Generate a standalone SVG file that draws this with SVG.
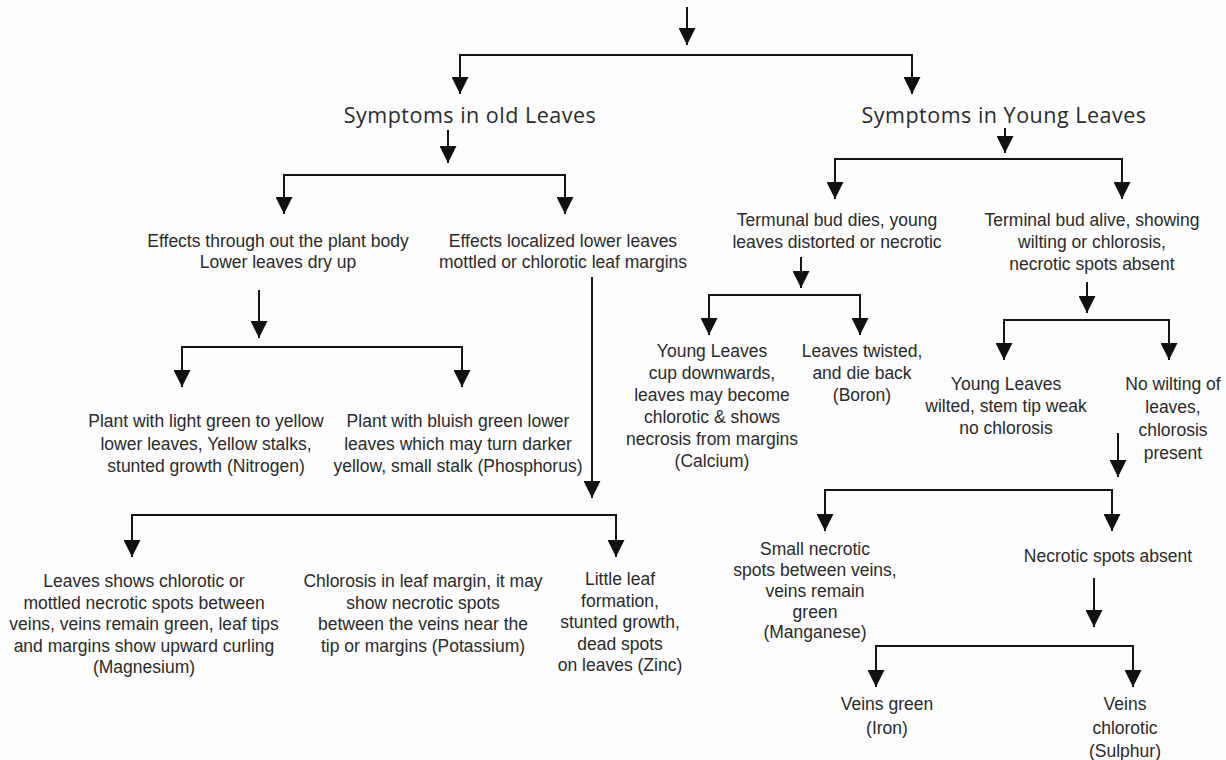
<svg xmlns="http://www.w3.org/2000/svg" width="1226" height="760" viewBox="0 0 1226 760">
<style>
.bg{fill:#fdfdfd}
.ln{fill:none;stroke:#151515;stroke-width:2}
.a{marker-end:url(#ah)}
.b{marker-start:url(#ahs);marker-end:url(#ah)}
.h{font-family:"Open Sans","Liberation Sans",sans-serif;font-size:21.5px;letter-spacing:0.5px;fill:#2a2a2a;text-anchor:middle}
.t{font-family:"Liberation Sans",Arial,sans-serif;font-size:17.5px;fill:#2a2a2a;text-anchor:middle}
</style>
<defs>
<marker id="ah" markerUnits="userSpaceOnUse" markerWidth="17" markerHeight="17" viewBox="0 0 17 17" refX="17" refY="8.5" orient="auto">
<path d="M0,0 L17,8.5 L0,17 Z" fill="#111"/>
</marker>
<marker id="ahs" markerUnits="userSpaceOnUse" markerWidth="17" markerHeight="17" viewBox="0 0 17 17" refX="17" refY="8.5" orient="auto-start-reverse">
<path d="M0,0 L17,8.5 L0,17 Z" fill="#111"/>
</marker>
</defs>
<rect class="bg" x="0" y="0" width="1226" height="760"/>
<g id="connectors">
<path class="ln a" d="M687,7 V45"/>
<path class="ln b" d="M460,94 V55 H912 V94"/>
<path class="ln a" d="M448,130 V163"/>
<path class="ln b" d="M284,214 V175 H565 V214"/>
<path class="ln a" d="M1005,128 V153"/>
<path class="ln b" d="M835,199 V159 H1122 V199"/>
<path class="ln a" d="M259,290 V338"/>
<path class="ln b" d="M182,387 V347 H462 V387"/>
<path class="ln a" d="M592,277 V498"/>
<path class="ln b" d="M132,557 V515 H616 V557"/>
<path class="ln a" d="M801,257 V288"/>
<path class="ln b" d="M709,335 V295 H860 V335"/>
<path class="ln a" d="M1087,282 V313"/>
<path class="ln b" d="M1004,360 V320 H1169 V360"/>
<path class="ln a" d="M1118,433 V477"/>
<path class="ln b" d="M825,531 V490 H1112 V531"/>
<path class="ln a" d="M1094,578 V627"/>
<path class="ln b" d="M876,687 V646 H1133 V687"/>
</g>
<g id="old-leaves"><text class="h" x="470" y="123">Symptoms in old Leaves</text></g>
<g id="young-leaves"><text class="h" x="1004" y="123">Symptoms in Young Leaves</text></g>
<g id="effects-throughout"><text class="t" x="278" y="247">Effects through out the plant body</text><text class="t" x="278" y="268">Lower leaves dry up</text></g>
<g id="effects-localized"><text class="t" x="563" y="247">Effects localized lower leaves</text><text class="t" x="563" y="268">mottled or chlorotic leaf margins</text></g>
<g id="bud-dies"><text class="t" x="837" y="226">Termunal bud dies, young</text><text class="t" x="837" y="248">leaves distorted or necrotic</text></g>
<g id="bud-alive"><text class="t" x="1092" y="226">Terminal bud alive, showing</text><text class="t" x="1092" y="248">wilting or chlorosis,</text><text class="t" x="1092" y="270">necrotic spots absent</text></g>
<g id="calcium"><text class="t" x="712" y="357">Young Leaves</text><text class="t" x="712" y="379">cup downwards,</text><text class="t" x="712" y="401">leaves may become</text><text class="t" x="712" y="423">chlorotic &amp; shows</text><text class="t" x="712" y="445">necrosis from margins</text><text class="t" x="712" y="467">(Calcium)</text></g>
<g id="boron"><text class="t" x="862" y="357">Leaves twisted,</text><text class="t" x="862" y="379">and die back</text><text class="t" x="862" y="401">(Boron)</text></g>
<g id="wilted"><text class="t" x="1006" y="390">Young Leaves</text><text class="t" x="1006" y="412">wilted, stem tip weak</text><text class="t" x="1006" y="434">no chlorosis</text></g>
<g id="no-wilting"><text class="t" x="1173" y="390">No wilting of</text><text class="t" x="1173" y="413">leaves,</text><text class="t" x="1173" y="436">chlorosis</text><text class="t" x="1173" y="459">present</text></g>
<g id="nitrogen"><text class="t" x="206" y="427">Plant with light green to yellow</text><text class="t" x="206" y="449.5">lower leaves, Yellow stalks,</text><text class="t" x="206" y="472">stunted growth (Nitrogen)</text></g>
<g id="phosphorus"><text class="t" x="458" y="427">Plant with bluish green lower</text><text class="t" x="458" y="449.5">leaves which may turn darker</text><text class="t" x="458" y="472">yellow, small stalk (Phosphorus)</text></g>
<g id="magnesium"><text class="t" x="144" y="587">Leaves shows chlorotic or</text><text class="t" x="144" y="608.5">mottled necrotic spots between</text><text class="t" x="144" y="630">veins, veins remain green, leaf tips</text><text class="t" x="144" y="651.5">and margins show upward curling</text><text class="t" x="144" y="673">(Magnesium)</text></g>
<g id="potassium"><text class="t" x="423" y="587">Chlorosis in leaf margin, it may</text><text class="t" x="423" y="608.5">show necrotic spots</text><text class="t" x="423" y="630">between the veins near the</text><text class="t" x="423" y="651.5">tip or margins (Potassium)</text></g>
<g id="zinc"><text class="t" x="620" y="585">Little leaf</text><text class="t" x="620" y="606.5">formation,</text><text class="t" x="620" y="628">stunted growth,</text><text class="t" x="620" y="649.5">dead spots</text><text class="t" x="620" y="671">on leaves (Zinc)</text></g>
<g id="manganese"><text class="t" x="815" y="555">Small necrotic</text><text class="t" x="815" y="576">spots between veins,</text><text class="t" x="815" y="597">veins remain</text><text class="t" x="815" y="617.5">green</text><text class="t" x="815" y="638">(Manganese)</text></g>
<g id="necrotic-absent"><text class="t" x="1108" y="562">Necrotic spots absent</text></g>
<g id="iron"><text class="t" x="887" y="710">Veins green</text><text class="t" x="887" y="734">(Iron)</text></g>
<g id="sulphur"><text class="t" x="1125" y="710">Veins</text><text class="t" x="1125" y="734">chlorotic</text><text class="t" x="1125" y="757">(Sulphur)</text></g>
</svg>
